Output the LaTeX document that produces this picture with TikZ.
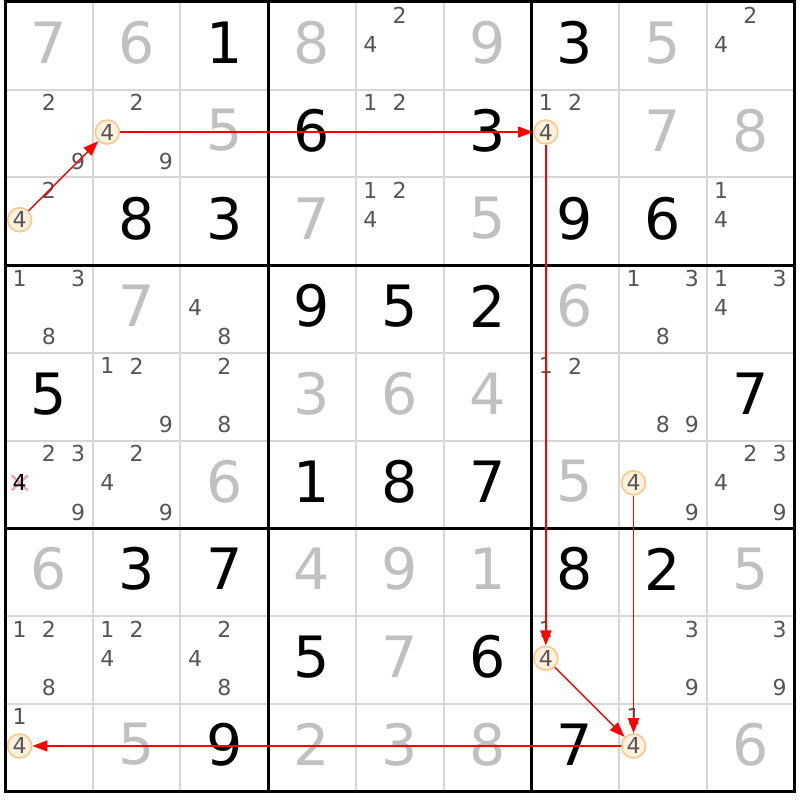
\documentclass[tikz,border=0pt]{standalone}
\usepackage{fontspec}
\setmainfont{DejaVu Sans}
\usetikzlibrary{arrows.meta}
\definecolor{fillgray}{HTML}{C0C0C0}
\definecolor{candgray}{HTML}{555555}
\definecolor{gridgray}{HTML}{D6D6D6}
\definecolor{hlborder}{HTML}{F8C98A}
\definecolor{hlfill}{HTML}{FFF1DE}
\definecolor{crosscol}{HTML}{F5A3AE}
\def\cellsz{87.7}
\tikzset{
  big/.style={inner sep=0pt, font=\fontsize{57}{57}\selectfont},
  given/.style={big, text=black},
  filled/.style={big, text=fillgray},
  cand/.style={inner sep=0pt, font=\fontsize{22}{22}\selectfont, text=candgray},
  hl/.style={cand, circle, draw=hlborder, fill=hlfill, line width=1.6pt, minimum size=24pt},
  link/.style={draw=red, line width=1.5pt, -{Triangle[length=15pt,width=11pt]}},
  thinline/.style={draw=gridgray, line width=2pt},
  thickline/.style={draw=black, line width=3pt},
  crossline/.style={draw=crosscol, line width=2.4pt},
}
\begin{document}
\begin{tikzpicture}[x=1pt,y=-1pt]
\useasboundingbox (0,0) rectangle (800,800);
\fill[white] (0,0) rectangle (800,800);
% thin grid lines
\foreach \k in {1,2,4,5,7,8}{
  \draw[thinline] ({5+\k*\cellsz},2) -- ({5+\k*\cellsz},{2+9*\cellsz});
  \draw[thinline] (5,{2+\k*\cellsz}) -- ({5+9*\cellsz},{2+\k*\cellsz});
}
% thick box lines
\foreach \k in {0,3,6,9}{
  \draw[thickline] ({5+\k*\cellsz},0.5) -- ({5+\k*\cellsz},{3.5+9*\cellsz});
  \draw[thickline] (3.5,{2+\k*\cellsz}) -- ({6.5+9*\cellsz},{2+\k*\cellsz});
}
% given digits
\foreach \r/\c/\d in {0/2/1, 0/6/3, 1/3/6, 1/5/3, 2/1/8, 2/2/3, 2/6/9, 2/7/6, 3/3/9, 3/4/5, 3/5/2, 4/0/5, 4/8/7, 5/3/1, 5/4/8, 5/5/7, 6/1/3, 6/2/7, 6/6/8, 6/7/2, 7/3/5, 7/5/6, 8/2/9, 8/6/7}
  \node[given] (g\r\c) at ({5+\c*\cellsz+\cellsz/2},{2+\r*\cellsz+\cellsz/2-3}) {\d};
% filled digits
\foreach \r/\c/\d in {0/0/7, 0/1/6, 0/3/8, 0/5/9, 0/7/5, 1/2/5, 1/7/7, 1/8/8, 2/3/7, 2/5/5, 3/1/7, 3/6/6, 4/3/3, 4/4/6, 4/5/4, 5/2/6, 5/6/5, 6/0/6, 6/3/4, 6/4/9, 6/5/1, 6/8/5, 7/4/7, 8/1/5, 8/3/2, 8/4/3, 8/5/8, 8/8/6}
  \node[filled] (f\r\c) at ({5+\c*\cellsz+\cellsz/2},{2+\r*\cellsz+\cellsz/2-3}) {\d};
% candidates
\foreach \r/\c/\d in {0/4/2, 0/4/4, 0/8/2, 0/8/4,
  1/0/2, 1/0/9, 1/1/2, 1/1/9, 1/4/1, 1/4/2, 1/6/1, 1/6/2,
  2/0/2, 2/4/1, 2/4/2, 2/4/4, 2/8/1, 2/8/4,
  3/0/1, 3/0/3, 3/0/8, 3/2/4, 3/2/8, 3/7/1, 3/7/3, 3/7/8, 3/8/1, 3/8/3, 3/8/4,
  4/1/1, 4/1/2, 4/1/9, 4/2/2, 4/2/8, 4/6/1, 4/6/2, 4/7/8, 4/7/9,
  5/0/2, 5/0/3, 5/0/9, 5/1/2, 5/1/4, 5/1/9, 5/7/9, 5/8/2, 5/8/3, 5/8/4, 5/8/9,
  7/0/1, 7/0/2, 7/0/8, 7/1/1, 7/1/2, 7/1/4, 7/2/2, 7/2/4, 7/2/8, 7/6/1, 7/7/3, 7/7/9, 7/8/3, 7/8/9,
  8/0/1, 8/7/1}{
  \pgfmathtruncatemacro\ii{(\d-1)/3}
  \pgfmathtruncatemacro\jj{mod(\d-1,3)}
  \node[cand] (c\r\c\d) at ({5+\c*\cellsz+(2*\jj+1)*\cellsz/6},{2+\r*\cellsz+(2*\ii+1)*\cellsz/6-1.5}) {\d};
}
% crossed-out candidate
\coordinate (xc) at ({5+\cellsz/6},{2+5*\cellsz+\cellsz/2-1.5});
\draw[crossline] ([shift={(-8,-7.5)}]xc) -- ([shift={(8,7.5)}]xc);
\draw[crossline] ([shift={(-8,7.5)}]xc) -- ([shift={(8,-7.5)}]xc);
\node[cand, text=black] (x504) at (xc) {4};
% highlighted candidates
\node[hl] (n20) at ({5+0*\cellsz+\cellsz/6},{2+2*\cellsz+\cellsz/2-1.5}) {4};
\node[hl] (n11) at ({5+1*\cellsz+\cellsz/6},{2+1*\cellsz+\cellsz/2-1.5}) {4};
\node[hl] (n16) at ({5+6*\cellsz+\cellsz/6},{2+1*\cellsz+\cellsz/2-1.5}) {4};
\node[hl] (n76) at ({5+6*\cellsz+\cellsz/6},{2+7*\cellsz+\cellsz/2-1.5}) {4};
\node[hl] (n57) at ({5+7*\cellsz+\cellsz/6},{2+5*\cellsz+\cellsz/2-1.5}) {4};
\node[hl] (n87) at ({5+7*\cellsz+\cellsz/6},{2+8*\cellsz+\cellsz/2-1.5}) {4};
\node[hl] (n80) at ({5+0*\cellsz+\cellsz/6},{2+8*\cellsz+\cellsz/2-1.5}) {4};
% links
\draw[link] (n20) -- (n11);
\draw[link] (n11) -- (n16);
\draw[link] (n16) -- (n76);
\draw[link] (n76) -- (n87);
\draw[link] (n57) -- (n87);
\draw[link] (n87) -- (n80);
\end{tikzpicture}
\end{document}
